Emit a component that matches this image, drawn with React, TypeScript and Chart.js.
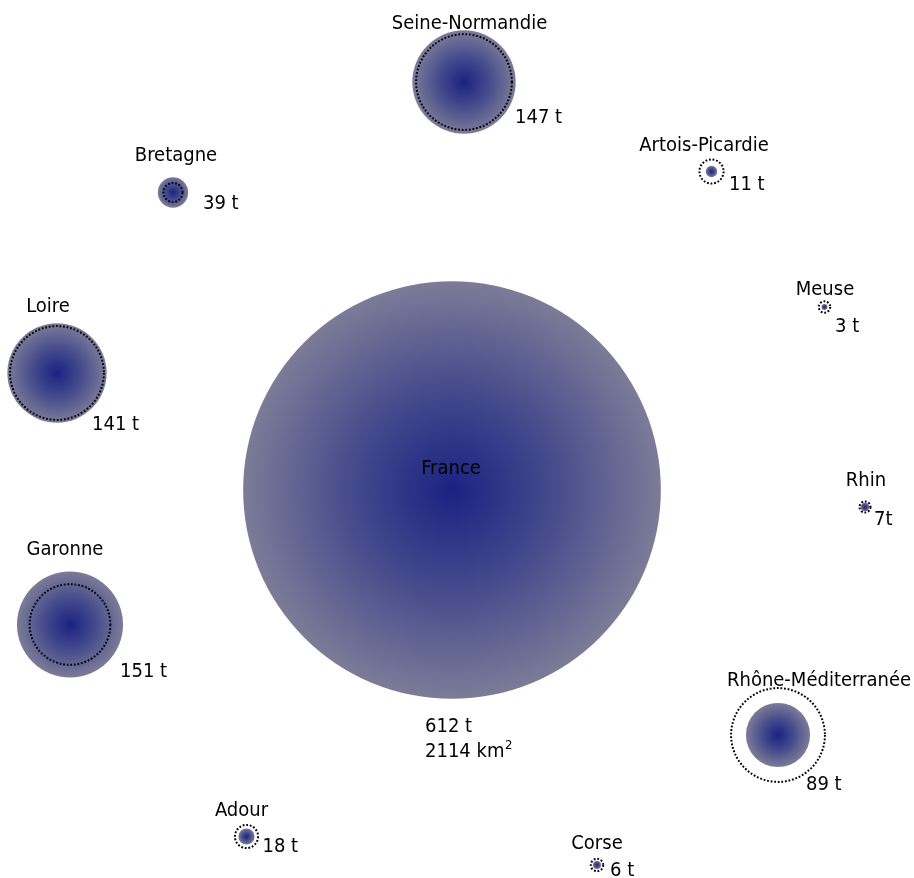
import React, { useEffect, useRef } from "react";
import { Chart, registerables } from "chart.js";

Chart.register(...registerables);

// ---- data ----
const regions = [
  "France",
  "Seine-Normandie",
  "Bretagne",
  "Artois-Picardie",
  "Meuse",
  "Rhin",
  "Loire",
  "Garonne",
  "Rhône-Méditerranée",
  "Adour",
  "Corse",
];
const tonnes = [612, 147, 39, 11, 3, 7, 141, 151, 89, 18, 6];
const areaKm2 = [2114, 469, 77, 103, 38, 36, 459, 392, 459, 98, 43];
const posX = [452, 464, 173, 711.5, 824.5, 865, 57, 70, 778, 246.5, 597];
const posY = [490, 82, 192.5, 171.5, 307, 507, 373, 624.5, 735, 836.5, 865];
const valueLabels = ["612 t", "147 t", "39 t", "11 t", "3 t", "7t", "141 t", "151 t", "89 t", "18 t", "6 t"];
const totalAreaLabel = "2114 km";

// ---- layout (label offsets relative to bubble centre, in px) ----
const nameOffsets: [number, number][] = [
  [-1, -16], [5.5, -53], [3, -32], [-7.5, -20.5], [0.5, -12], [1, -21],
  [-9, -61], [-5, -70], [41, -49], [-5, -21], [0, -16],
];
const valueOffsets: [number, number][] = [
  [-27, 242], [51, 41], [30, 16.5], [17.5, 18.5], [10.5, 25], [9, 18],
  [35, 57], [50, 52], [28, 55], [16, 15], [13, 11],
];

const W = 914;
const H = 878;
const FONT_FAMILY = '"DejaVu Sans Condensed", "DejaVu Sans", sans-serif';

const rFromTonnes = (t: number) => 2 + 0.338 * t;
const rFromArea = (a: number) => rFromTonnes((a * tonnes[0]) / areaKm2[0]);

export default function App() {
  const ref = useRef<HTMLCanvasElement | null>(null);

  useEffect(() => {
    if (!ref.current) return;

    const bubbleData = regions.map((_, i) => ({ x: posX[i], y: posY[i], r: rFromTonnes(tonnes[i]) }));
    const dottedData = regions
      .map((_, i) => ({ x: posX[i], y: posY[i], r: rFromArea(areaKm2[i]) }))
      .filter((_, i) => i > 0);

    const FALLBACK = "#4a4f8c";
    const gradientFill = (c: any) => {
      if (c.type !== "data") return FALLBACK;
      const chart = c.chart;
      const xs = chart.scales && chart.scales.x;
      const ys = chart.scales && chart.scales.y;
      if (!xs || !ys) return FALLBACK;
      const d = bubbleData[c.dataIndex];
      const px = xs.getPixelForValue(d.x);
      const py = ys.getPixelForValue(d.y);
      if (!isFinite(px) || !isFinite(py) || !isFinite(d.r) || d.r <= 0) return FALLBACK;
      const g = chart.ctx.createRadialGradient(px, py, 0, px, py, d.r);
      g.addColorStop(0, "#1a2282");
      g.addColorStop(0.5, "#464c8c");
      g.addColorStop(1, "#7c7c98");
      return g;
    };

    const isDotted = (chart: any, idx: number) => chart.data.datasets[idx].label === "dotted";

    const dashPlugin = {
      id: "dash",
      beforeDatasetDraw(chart: any, args: any) {
        if (isDotted(chart, args.index)) {
          chart.ctx.save();
          chart.ctx.setLineDash([1.8, 1.8]);
        }
      },
      afterDatasetDraw(chart: any, args: any) {
        if (isDotted(chart, args.index)) {
          chart.ctx.restore();
        }
      },
    };

    const labelPlugin = {
      id: "labels",
      afterDatasetsDraw(chart: any) {
        const ctx = chart.ctx;
        const xs = chart.scales.x;
        const ys = chart.scales.y;
        ctx.save();
        ctx.fillStyle = "#000";
        ctx.font = `20px ${FONT_FAMILY}`;
        ctx.textBaseline = "alphabetic";
        regions.forEach((name, i) => {
          const px = xs.getPixelForValue(posX[i]);
          const py = ys.getPixelForValue(posY[i]);
          ctx.textAlign = "center";
          ctx.fillText(name, px + nameOffsets[i][0], py + nameOffsets[i][1]);
          ctx.textAlign = "left";
          const vx = px + valueOffsets[i][0];
          const vy = py + valueOffsets[i][1];
          ctx.fillText(valueLabels[i], vx, vy);
          if (i === 0) {
            ctx.fillText(totalAreaLabel, vx, vy + 24.5);
            const w = ctx.measureText(totalAreaLabel).width;
            ctx.font = `13px ${FONT_FAMILY}`;
            ctx.fillText("2", vx + w + 0.5, vy + 24.5 - 8);
            ctx.font = `20px ${FONT_FAMILY}`;
          }
        });
        ctx.restore();
      },
    };

    const chart = new Chart(ref.current, {
      type: "bubble",
      data: {
        datasets: [
          {
            label: "dotted",
            data: dottedData,
            backgroundColor: "rgba(0,0,0,0)",
            borderColor: "#000",
            borderWidth: 2,
            order: 0,
            clip: false,
          } as any,
          {
            label: "bubbles",
            data: bubbleData,
            backgroundColor: gradientFill,
            borderWidth: 0,
            order: 1,
            clip: false,
          } as any,
        ],
      },
      options: {
        animation: false,
        responsive: false,
        events: [],
        layout: { padding: 0, autoPadding: false },
        plugins: { legend: { display: false }, tooltip: { enabled: false } },
        scales: {
          x: { type: "linear", min: 0, max: W, display: false },
          y: { type: "linear", min: 0, max: H, reverse: true, display: false },
        },
      },
      plugins: [dashPlugin, labelPlugin],
    });

    return () => chart.destroy();
  }, []);

  return (
    <div style={{ position: "absolute", left: 0, top: 0, width: W, height: H, background: "#fff" }}>
      <canvas ref={ref} width={W} height={H} style={{ display: "block", width: W, height: H }} />
    </div>
  );
}
